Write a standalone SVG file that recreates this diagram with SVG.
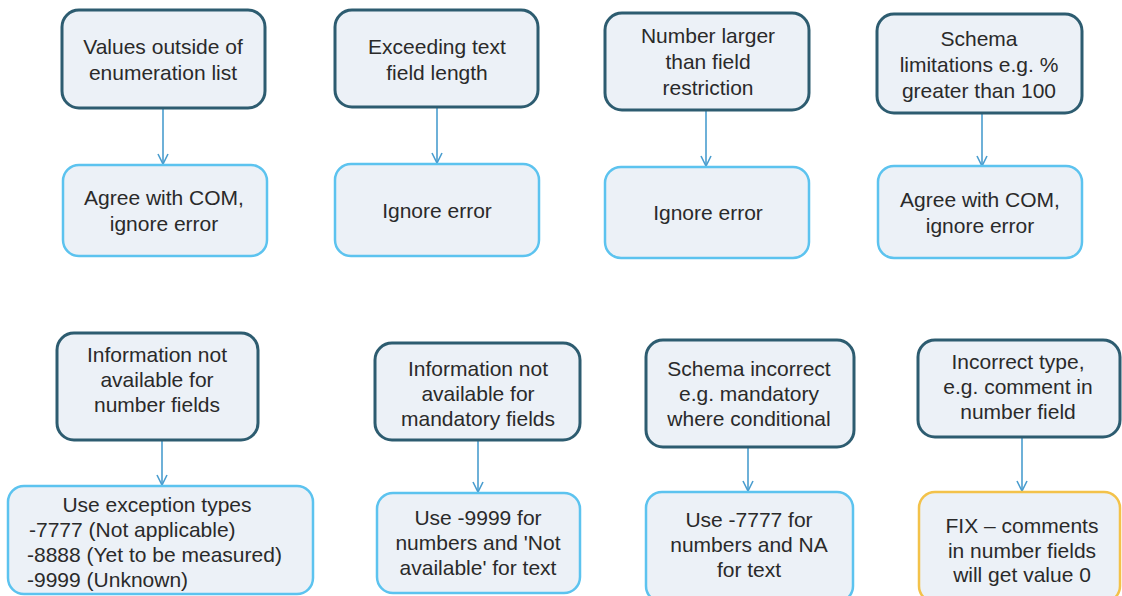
<svg xmlns="http://www.w3.org/2000/svg" width="1122" height="596" viewBox="0 0 1122 596">
<defs>
<style>
.bg{fill:#ffffff}
.src{fill:#ecf1f7;stroke:#2d5c70;stroke-width:3}
.dst{fill:#ecf1f7;stroke:#5cc3ef;stroke-width:2.5}
.fix{fill:#ecf1f7;stroke:#f3c24a;stroke-width:2.5}
text{font-family:"Liberation Sans",Arial,sans-serif;font-size:21px;fill:#2a2a2a}
.c{text-anchor:middle}
.l{text-anchor:start}
.conn{stroke:#4a9dcf;stroke-width:1.6;fill:none}
</style>
<marker id="arr" viewBox="0 0 12 12" refX="11" refY="6" markerWidth="12" markerHeight="12" markerUnits="userSpaceOnUse" orient="auto">
<path d="M1,1 L11,6 L1,11" fill="none" stroke="#4a9dcf" stroke-width="1.6"/>
</marker>
</defs>
<rect class="bg" x="0" y="0" width="1122" height="596"/>

<g id="connectors">
<line class="conn" x1="163" y1="108" x2="163" y2="164" marker-end="url(#arr)"/>
<line class="conn" x1="437" y1="107" x2="437" y2="163" marker-end="url(#arr)"/>
<line class="conn" x1="706" y1="110" x2="706" y2="166" marker-end="url(#arr)"/>
<line class="conn" x1="982" y1="113" x2="982" y2="166" marker-end="url(#arr)"/>
<line class="conn" x1="162" y1="440" x2="162" y2="485" marker-end="url(#arr)"/>
<line class="conn" x1="478" y1="440" x2="478" y2="492" marker-end="url(#arr)"/>
<line class="conn" x1="748" y1="447" x2="748" y2="491" marker-end="url(#arr)"/>
<line class="conn" x1="1022" y1="437" x2="1022" y2="491" marker-end="url(#arr)"/>
</g>

<g id="n-values-outside">
<rect class="src" x="62" y="10" width="203" height="98" rx="17"/>
<text class="c" x="163" y="54">Values outside of</text>
<text class="c" x="163" y="80">enumeration list</text>
</g>
<g id="n-agree-1">
<rect class="dst" x="63" y="165" width="204" height="91" rx="16"/>
<text class="c" x="164" y="205">Agree with COM,</text>
<text class="c" x="164" y="231">ignore error</text>
</g>

<g id="n-exceeding">
<rect class="src" x="335" y="10" width="203" height="97" rx="17"/>
<text class="c" x="437" y="54">Exceeding text</text>
<text class="c" x="437" y="80">field length</text>
</g>
<g id="n-ignore-1">
<rect class="dst" x="335" y="164" width="204" height="92" rx="16"/>
<text class="c" x="437" y="218">Ignore error</text>
</g>

<g id="n-number-larger">
<rect class="src" x="605" y="13" width="204" height="97" rx="17"/>
<text class="c" x="708" y="43">Number larger</text>
<text class="c" x="708" y="69">than field</text>
<text class="c" x="708" y="95">restriction</text>
</g>
<g id="n-ignore-2">
<rect class="dst" x="605" y="167" width="204" height="91" rx="16"/>
<text class="c" x="708" y="220">Ignore error</text>
</g>

<g id="n-schema-limitations">
<rect class="src" x="877" y="14" width="205" height="99" rx="17"/>
<text class="c" x="979" y="46">Schema</text>
<text class="c" x="979" y="72">limitations e.g. %</text>
<text class="c" x="979" y="98">greater than 100</text>
</g>
<g id="n-agree-2">
<rect class="dst" x="878" y="166" width="204" height="92" rx="16"/>
<text class="c" x="980" y="207">Agree with COM,</text>
<text class="c" x="980" y="233">ignore error</text>
</g>

<g id="n-info-number">
<rect class="src" x="57" y="333" width="201" height="107" rx="17"/>
<text class="c" x="157" y="362">Information not</text>
<text class="c" x="157" y="387">available for</text>
<text class="c" x="157" y="412">number fields</text>
</g>
<g id="n-exception-types">
<rect class="dst" x="8" y="486" width="305" height="108" rx="16"/>
<text class="c" x="157" y="512">Use exception types</text>
<text class="l" x="29" y="537">-7777 (Not applicable)</text>
<text class="l" x="27" y="562">-8888 (Yet to be measured)</text>
<text class="l" x="27" y="587">-9999 (Unknown)</text>
</g>

<g id="n-info-mandatory">
<rect class="src" x="375" y="343" width="205" height="97" rx="17"/>
<text class="c" x="478" y="376">Information not</text>
<text class="c" x="478" y="401">available for</text>
<text class="c" x="478" y="426">mandatory fields</text>
</g>
<g id="n-use-9999">
<rect class="dst" x="377" y="493" width="203" height="100" rx="16"/>
<text class="c" x="478" y="525">Use -9999 for</text>
<text class="c" x="478" y="550">numbers and 'Not</text>
<text class="c" x="478" y="575">available' for text</text>
</g>

<g id="n-schema-incorrect">
<rect class="src" x="646" y="340" width="208" height="107" rx="17"/>
<text class="c" x="749" y="376">Schema incorrect</text>
<text class="c" x="749" y="401">e.g. mandatory</text>
<text class="c" x="749" y="426">where conditional</text>
</g>
<g id="n-use-7777">
<rect class="dst" x="646" y="492" width="207" height="110" rx="16"/>
<text class="c" x="749" y="527">Use -7777 for</text>
<text class="c" x="749" y="552">numbers and NA</text>
<text class="c" x="749" y="577">for text</text>
</g>

<g id="n-incorrect-type">
<rect class="src" x="918" y="340" width="202" height="97" rx="17"/>
<text class="c" x="1018" y="369">Incorrect type,</text>
<text class="c" x="1018" y="394">e.g. comment in</text>
<text class="c" x="1018" y="419">number field</text>
</g>
<g id="n-fix">
<rect class="fix" x="919" y="492" width="201" height="110" rx="16"/>
<text class="c" x="1022" y="533">FIX – comments</text>
<text class="c" x="1022" y="558">in number fields</text>
<text class="c" x="1022" y="582">will get value 0</text>
</g>
</svg>
